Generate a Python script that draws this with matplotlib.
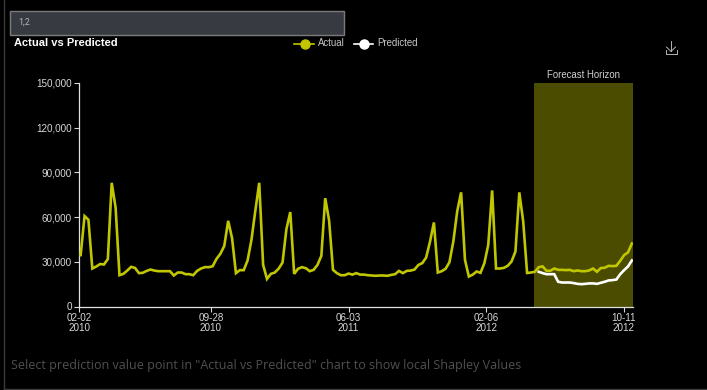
import pandas as pd
import matplotlib
matplotlib.use("Agg")
import matplotlib.pyplot as plt
from matplotlib.patches import Rectangle

plt.rcParams['font.family'] = ['Liberation Sans', 'DejaVu Sans']

W, H = 707, 390

actual = [
    34500, 60700, 58200, 25500, 26800, 28500, 28200, 31800, 83000, 66300,
    21000, 21900, 24100, 26600, 25900, 22400, 22600, 23900, 24800, 24100,
    23700, 23700, 23700, 23700, 20800, 22800, 22800, 21700, 21700, 21000,
    23900, 25500, 26400, 26400, 27000, 32000, 35400, 40700, 57500, 45900,
    22400, 24400, 24400, 30900, 44800, 64400, 83000, 28000, 18500, 21900,
    22800, 25400, 29500, 51900, 63400, 21900, 25300, 26400, 25700, 23700,
    24600, 27900, 34000, 72700, 57700, 24600, 22400, 21000, 21000, 22100,
    21400, 22400, 21400, 21400, 21000, 20800, 20600, 20800, 20800, 20600,
    21200, 21700, 23900, 22400, 23900, 24100, 24800, 27900, 29100, 32900,
    43600, 56400, 22800, 23700, 25300, 29700, 43600, 63800, 76600, 31300,
    20100, 21400, 23500, 22600, 29100, 41400, 77900, 25500, 25500, 25900,
    27300, 30200, 36900, 76600, 57100, 22500, 22800, 23300, 26400, 26900,
    24000, 24000, 25500, 24600, 24600, 24400, 24600, 23700, 24200, 23700,
    23700, 24200, 25500, 23300, 25800, 26000, 27300, 27100, 27300, 30700,
    34500, 36300, 42300,
]
predicted = [
    23300, 22400, 21700, 21700, 21700, 16600, 16100, 16100, 16100, 15700,
    15200, 15000, 15200, 15500, 15500, 15200, 15900, 16600, 17500, 17700,
    18100, 21700, 24400, 26900, 30900,
]
y_ticks = [0, 30000, 60000, 90000, 120000, 150000]
tick_dates = ["2010-02-02", "2010-09-28", "2011-06-03", "2012-02-06", "2012-10-11"]
tick_labels = ["02-02\n2010", "09-28\n2010", "06-03\n2011", "02-06\n2012", "10-11\n2012"]

dates = pd.date_range("2010-02-05", periods=len(actual), freq="7D")
pred_dates = dates[-len(predicted):]

OLIVE = "#c0c600"

fig = plt.figure(figsize=(W / 100, H / 100), dpi=100, facecolor="black")

# page furniture, drawn in pixel coordinates
bg = fig.add_axes([0, 0, 1, 1])
bg.set_xlim(0, W)
bg.set_ylim(H, 0)
bg.axis("off")
bg.add_patch(Rectangle((10, 10.5), 334, 24, facecolor="#373a41", edgecolor="#7b7b7b", linewidth=1))
bg.text(18, 22.5, "1,2", color="#b5b5b5", fontsize=6.5, va="center", family="Roboto")
bg.text(14, 43.5, "Actual vs Predicted", color="white", fontsize=8.05, fontweight="bold", va="center")
bg.plot([3.5, 3.5], [0, 389], color="#3a3a3a", lw=1)
bg.plot([3.5, 707], [389, 389], color="#3a3a3a", lw=1)
bg.text(11, 365, 'Select prediction value point in "Actual vs Predicted" chart to show local Shapley Values',
        color="#505050", fontsize=9.0, va="center", family="Open Sans")

# download icon
for xs, ys in [([671, 671], [41, 51]), ([666.5, 671, 675.5], [47, 51.5, 47]),
               ([665.5, 665.5, 676.5, 676.5], [50, 53.5, 53.5, 50])]:
    bg.plot(xs, ys, color="#b5b5b5", lw=0.7)

# legend
bg.plot([294, 314], [43.5, 43.5], color=OLIVE, lw=1.2)
bg.plot([304.5], [43.5], "o", color=OLIVE, ms=6.5)
bg.text(318, 43, "Actual", color="#c8c8c8", fontsize=6.9, va="center")
bg.plot([354, 373], [43.5, 43.5], color="white", lw=1.2)
bg.plot([363.5], [43.5], "o", color="white", ms=6.5)
bg.text(377, 43, "Predicted", color="#c8c8c8", fontsize=6.9, va="center")

ax = fig.add_axes([79 / W, 1 - 306.5 / H, (633 - 79) / W, (306.5 - 83) / H], facecolor="none")
ax.set_xlim(pd.Timestamp("2010-02-02"), pd.Timestamp("2012-10-28"))
ax.set_ylim(0, 150000)

ax.axvspan(pd.Timestamp("2012-05-02"), pd.Timestamp("2012-10-28"), color="#4c4c00", lw=0, zorder=1)
ax.plot(dates, actual, color=OLIVE, lw=1.9, zorder=3, solid_joinstyle="miter")
ax.plot(pred_dates, predicted, color="white", lw=1.9, zorder=4, solid_joinstyle="miter")
ax.text(pd.Timestamp("2012-07-31"), 152000, "Forecast Horizon", color="#d0d0d0", fontsize=6.9, ha="center", va="bottom")

ax.set_yticks(y_ticks, [f"{v:,}" for v in y_ticks])
ax.set_xticks(pd.to_datetime(tick_dates), tick_labels)
ax.tick_params(colors="#d8d8d8", labelsize=7.1, length=3.5, width=0.8, pad=1.5)
ax.tick_params(axis="x", pad=1)
for lab in ax.get_xticklabels():
    lab.set_linespacing(1.0)
ax.spines[["top", "right"]].set_visible(False)
ax.spines[["left", "bottom"]].set_color("#e0e0e0")
ax.spines[["left", "bottom"]].set_linewidth(0.9)

fig.savefig("out.png", dpi=100, facecolor="black")
